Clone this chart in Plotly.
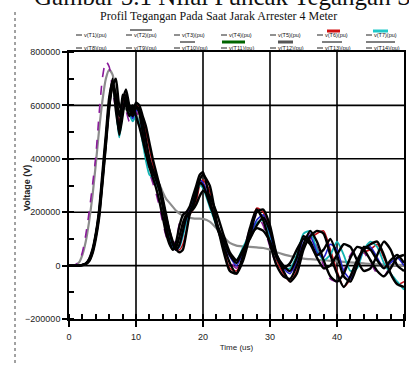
import plotly.graph_objects as go

# ---------------- data (time in microseconds, voltage in kV) ----------------
t_us = [0, 0.5, 1, 1.5, 2, 2.5, 3, 3.5, 4, 4.5, 5, 5.5, 6, 6.5, 7, 7.5, 8, 8.5, 9, 9.5,
        10, 10.5, 11, 11.5, 12, 12.5, 13, 13.5, 14, 14.5, 15, 15.5, 16, 16.5, 17, 17.5,
        18, 18.5, 19, 19.5, 20, 21, 22, 23, 24, 25, 26, 27, 28, 29, 30, 31, 32, 33, 34,
        35, 36, 37, 38, 39, 40, 41, 42, 43, 44, 45, 46, 47, 48, 49, 50]

v_purple = [0, 0, 3, 15, 50, 115, 200, 300, 410, 570, 705, 765, 745, 655, 585, 530, 600, 580, 540, 570,
            580, 540, 470, 400, 350, 310, 270, 220, 160, 110, 80, 70, 100, 160, 190, 200,
            210, 240, 270, 300, 310, 240, 150, 80, 20, -10, 50, 140, 190, 150, 70, 0, -40, -40, 20,
            90, 120, 70, 0, -50, -60, -20, 40, 70, 50, 10, -30, -40, 0, 30, 30]

v_gray = [0, 0, 3, 12, 40, 90, 165, 260, 380, 510, 620, 700, 733, 715, 650, 600, 590, 585, 575, 570,
          565, 540, 495, 445, 400, 365, 335, 305, 275, 250, 235, 220, 205, 195, 187, 182,
          179, 177, 176, 176, 175, 165, 140, 110, 85, 75, 72, 70, 68, 66, 60, 50, 42, 36, 30,
          26, 24, 22, 20, 18, 16, 14, 12, 10, 8, 6, 5, 4, 3, 3, 2]

v_red = [0, 0, 0, 0, 2, 5, 18, 50, 105, 190, 320, 460, 600, 670, 600, 540, 600, 640, 590, 560,
         600, 590, 550, 500, 440, 380, 340, 290, 230, 170, 120, 80, 60, 60, 80, 130,
         190, 210, 240, 300, 320, 280, 170, 70, -10, -20, 30, 120, 215, 200, 130, 20, -30, -60, -20,
         70, 100, 120, 130, 60, -20, -80, -50, 10, 50, 60, 80, 30, -30, -70, -60]

v_cyan = [0, 0, 0, 0, 2, 5, 20, 55, 115, 200, 330, 470, 610, 680, 590, 480, 570, 620, 570, 540,
          560, 530, 460, 390, 340, 330, 310, 280, 230, 170, 110, 70, 60, 70, 110, 160,
          200, 240, 270, 300, 290, 220, 150, 90, 40, 20, 70, 120, 160, 170, 110, 30, -10, -10, 40,
          120, 130, 60, 20, 40, 90, 40, -20, -10, 60, 90, 70, 10, -30, -60, -90]

v_blue = [0, 0, 0, 0, 3, 7, 24, 58, 118, 205, 340, 480, 620, 690, 610, 500, 580, 630, 590, 550,
          580, 580, 530, 460, 400, 355, 325, 295, 245, 185, 125, 75, 58, 75, 125, 175,
          205, 240, 285, 320, 310, 240, 160, 95, 35, 0, 50, 110, 170, 190, 120, 30, -10, -30, 20,
          100, 110, 50, 30, 80, 60, -20, -50, 0, 60, 70, 30, -10, 10, 30, 0]

v_black_a = [0, 0, 0, 0, 3, 8, 22, 55, 115, 200, 330, 470, 610, 700, 580, 500, 640, 600, 560, 590,
             600, 570, 500, 420, 370, 330, 290, 240, 180, 120, 80, 60, 90, 150, 190, 200,
             220, 260, 300, 340, 350, 250, 150, 80, 10, -30, 40, 140, 210, 170, 80, 0, -40, -50, 0,
             80, 130, 90, 20, -40, -60, -30, 30, 70, 60, 20, -20, -40, -10, 30, 40]

v_black_b = [0, 0, 0, 0, 2, 6, 16, 45, 100, 180, 310, 450, 590, 680, 640, 560, 620, 660, 600, 570,
             610, 600, 560, 520, 460, 400, 350, 300, 240, 180, 130, 90, 60, 50, 60, 120,
             190, 220, 260, 320, 340, 300, 170, 60, -20, -30, 20, 110, 200, 210, 150, 40, -20, -60, -30,
             60, 110, 130, 120, 40, -30, -80, -40, 20, 60, 80, 90, 40, -30, -70, -80]

v_black_c = [0, 0, 0, 0, 3, 7, 25, 60, 120, 210, 350, 490, 630, 690, 620, 490, 560, 640, 590, 560,
             590, 590, 540, 470, 400, 360, 330, 300, 250, 190, 130, 80, 60, 80, 130, 180,
             200, 230, 280, 310, 300, 230, 160, 100, 40, 10, 60, 100, 150, 180, 130, 40, 0, -20, 30,
             110, 90, 40, 60, 100, 40, -40, -60, 0, 70, 60, 20, -10, 20, 40, 10]

v_black_d = [0, 0, 0, 0, 2, 5, 18, 50, 110, 190, 320, 460, 600, 670, 700, 600, 580, 620, 580, 600,
             560, 520, 470, 420, 380, 350, 320, 280, 220, 150, 90, 60, 70, 110, 160, 190,
             200, 210, 230, 260, 280, 260, 200, 120, 50, 20, 60, 110, 140, 130, 90, 30, -10, 10, 60,
             100, 80, 30, -10, 0, 40, 80, 70, 20, -20, -10, 40, 90, 60, 0, -20]

x_range = [0, 50]
y_range = [-200000, 800000]
x_grid = [10, 20, 30, 40]
y_grid = [0, 200000, 400000, 600000]

legend_labels = ["v(T1)(pu)", "v(T2)(pu)", "v(T3)(pu)", "v(T4)(pu)", "v(T5)(pu)", "v(T6)(pu)", "v(T7)(pu)",
                 "v(T8)(pu)", "v(T9)(pu)", "v(T10)(pu)", "v(T11)(pu)", "v(T12)(pu)", "v(T13)(pu)", "v(T14)(pu)"]

title_text = "Profil Tegangan Pada Saat Jarak Arrester 4 Meter"
caption_text = "Gambar 5.1 Nilai Puncak Tegangan Saat Jarak"
x_title = "Time (us)"
y_title = "Voltage (V)"

# ---------------- figure ----------------
W, H = 409, 365
ML, MR, MT, MB = 69, 5, 52, 46
PW, PH = W - ML - MR, H - MT - MB


def px(xp):
    return (xp - ML) / PW


def py(yp):
    return (H - MB - yp) / PH


fig = go.Figure()

# grid lines as line traces under the data
gx_x, gx_y = [], []
for g in x_grid:
    gx_x += [g, g, None]
    gx_y += [y_range[0], y_range[1], None]
gy_x, gy_y = [], []
for g in y_grid:
    gy_x += [x_range[0], x_range[1], None]
    gy_y += [g, g, None]
fig.add_trace(go.Scatter(x=gx_x + gy_x, y=gx_y + gy_y, mode="lines",
                         line=dict(color="black", width=1.6), showlegend=False,
                         hoverinfo="skip", connectgaps=False))

series = [
    (v_gray, "#8c8c8c", 2.2, "solid"),
    (v_purple, "#8a1a9a", 1.6, "dash"),
    (v_red, "#c0101a", 1.6, "solid"),
    (v_cyan, "#14b4b4", 1.8, "solid"),
    (v_blue, "#2222cc", 1.6, "solid"),
    (v_black_a, "#000000", 2.4, "solid"),
    (v_black_b, "#000000", 2.4, "solid"),
    (v_black_c, "#000000", 2.4, "solid"),
    (v_black_d, "#000000", 2.4, "solid"),
]
for vals, col, w, dash in series:
    fig.add_trace(go.Scatter(
        x=t_us, y=[v * 1000 for v in vals], mode="lines",
        line=dict(color=col, width=w, dash=dash, shape="spline", smoothing=0.6),
        showlegend=False, hoverinfo="skip"))

fig.update_layout(
    template="none",
    width=W, height=H,
    margin=dict(l=ML, r=MR, t=MT, b=MB),
    paper_bgcolor="white", plot_bgcolor="white",
    showlegend=False,
    font=dict(family="Liberation Sans, Arial, sans-serif", color="#222"),
)

fig.update_xaxes(
    range=x_range, tickmode="linear", tick0=0, dtick=10,
    ticks="outside", ticklen=6, tickwidth=1.5, tickcolor="black",
    showgrid=False, zeroline=False,
    showline=True, linecolor="black", linewidth=1.6, mirror=True,
    tickfont=dict(size=9, color="#222"), ticklabelstandoff=2,
    minor=dict(dtick=2, ticks="inside", ticklen=5, tickwidth=1.5, tickcolor="black", showgrid=False),
    title=dict(text=x_title, font=dict(size=8, color="#222"), standoff=4),
    layer="above traces",
)
fig.update_yaxes(
    range=y_range, tickmode="linear", tick0=0, dtick=200000, tickformat="d",
    ticks="outside", ticklen=5, tickwidth=1.5, tickcolor="black",
    showgrid=False, zeroline=False,
    showline=True, linecolor="black", linewidth=1.6, mirror=True,
    tickfont=dict(size=9, color="#222"),
    minor=dict(dtick=100000, ticks="inside", ticklen=5, tickwidth=1.5, tickcolor="black", showgrid=False),
)

shapes = []
annotations = [
    dict(text=title_text, xref="paper", yref="paper", x=px(218), y=py(16),
         xanchor="center", yanchor="middle", showarrow=False,
         font=dict(family="Liberation Serif, Times New Roman, serif", size=12, color="#111")),
    dict(text=caption_text, xref="paper", yref="paper", x=px(32), y=py(-3.5),
         xanchor="left", yanchor="middle", showarrow=False,
         font=dict(family="Liberation Serif, Times New Roman, serif", size=25, color="#111")),
    dict(text="<b>" + y_title + "</b>", xref="paper", yref="paper", x=px(27), y=py(188),
         xanchor="center", yanchor="middle", showarrow=False, textangle=-90,
         font=dict(size=9, color="#222")),
]
shapes.append(dict(type="line", xref="paper", yref="paper", x0=px(15), x1=px(15), y0=py(12), y1=py(365),
                   line=dict(color="#444", width=1, dash="dot")))

col_x = [88, 138, 186, 233, 282, 329, 378]
row_y = [35, 48]
for i, lab in enumerate(legend_labels):
    cx = col_x[i % 7]
    ry = row_y[i // 7]
    shapes.append(dict(type="line", xref="paper", yref="paper",
                       x0=px(cx - 12), x1=px(cx - 6), y0=py(ry), y1=py(ry),
                       line=dict(color="#222", width=1)))
    annotations.append(dict(text=lab, xref="paper", yref="paper", x=px(cx - 6), y=py(ry),
                            xanchor="left", yanchor="middle", showarrow=False,
                            font=dict(size=5.5, color="#111")))

swatches = [
    (222, 245, 42, "#006400", 3),
    (278, 293, 42, "#555555", 3),
    (327, 340, 31, "#d01010", 3),
    (373, 388, 31, "#20c8c8", 3),
    (180, 195, 42, "#000000", 1),
    (130, 152, 30, "#000000", 1),
    (366, 395, 42, "#000000", 1),
    (322, 342, 42, "#000000", 1),
]
for x0, x1, yy, col, w in swatches:
    shapes.append(dict(type="line", xref="paper", yref="paper", x0=px(x0), x1=px(x1),
                       y0=py(yy), y1=py(yy), line=dict(color=col, width=w)))

fig.update_layout(annotations=annotations, shapes=shapes)

fig.write_html("out.html", config={"displayModeBar": False},
               post_script="document.body.style.margin='0';")
